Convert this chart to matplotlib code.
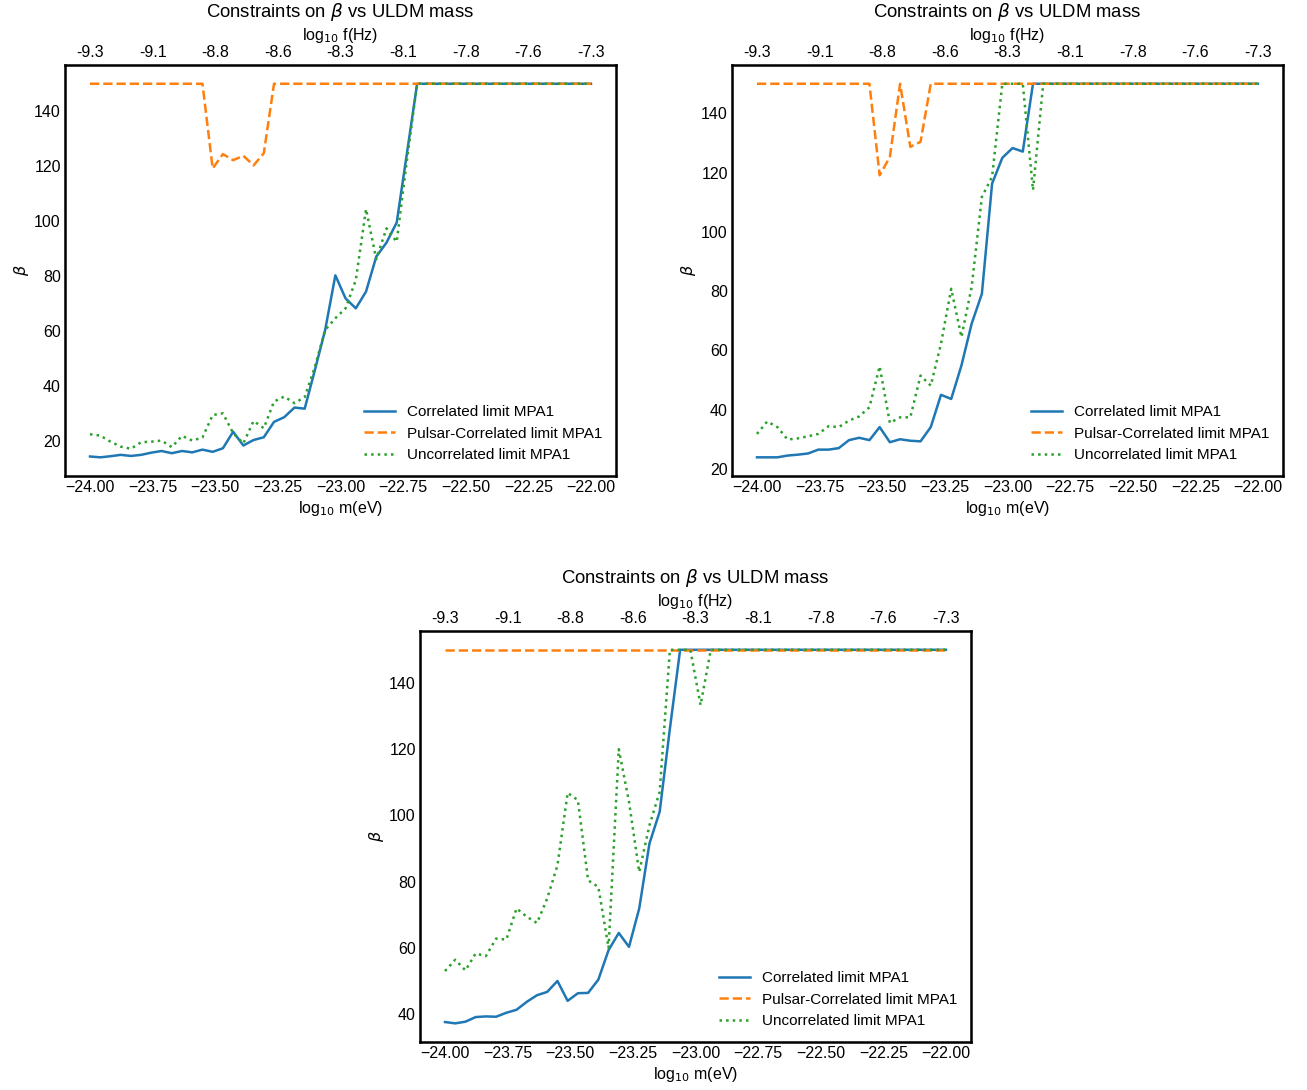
import numpy as np
import matplotlib
matplotlib.use("Agg")
import matplotlib.pyplot as plt

plt.rcParams['font.family'] = ['Liberation Sans', 'DejaVu Sans']
plt.rcParams['mathtext.fontset'] = 'dejavusans'

log_m = np.linspace(-24, -22, 50)
m_ticks = [-24.0, -23.75, -23.5, -23.25, -23.0, -22.75, -22.5, -22.25, -22.0]
f_ticklabels = ['-9.3', '-9.1', '-8.8', '-8.6', '-8.3', '-8.1', '-7.8', '-7.6', '-7.3']

# panel 1
corr_1 = [14.4, 14.1, 14.5, 15.0, 14.6, 15.0, 15.8, 16.4, 15.6, 16.4,
          15.9, 16.9, 16.1, 17.4, 23.4, 18.4, 20.4, 21.4, 27.0, 28.7,
          32.2, 31.8, 45.9, 60.4, 80.3, 71.9, 68.3, 74.4, 87.1, 92.2,
          99.5, 124.7] + [150] * 18
pulsar_1 = [150] * 12 + [119.2, 124.4, 122.2, 123.8, 120.3, 124.7] + [150] * 32
uncorr_1 = [22.5, 22.0, 19.8, 18.0, 17.2, 19.6, 19.8, 20.2, 17.8, 21.9,
            20.2, 21.3, 29.5, 30.1, 22.9, 19.2, 27.3, 24.7, 34.4, 36.2,
            33.8, 36.0, 47.1, 60.4, 64.7, 68.3, 78.6, 104.4, 86.2, 97.4,
            92.5, 122.2] + [150] * 18

# panel 2
corr_2 = [23.9, 23.9, 23.9, 24.5, 24.8, 25.2, 26.5, 26.5, 27.0, 29.7,
          30.5, 29.7, 34.1, 29.0, 30.0, 29.5, 29.3, 34.1, 45.0, 43.6,
          54.9, 69.0, 79.1, 116.3, 125.0, 128.3, 127.1] + [150] * 23
pulsar_2 = [150] * 12 + [119.1, 125.3, 150, 128.7, 130.4] + [150] * 33
uncorr_2 = [31.8, 36.0, 34.1, 29.9, 30.3, 31.0, 31.8, 34.4, 34.1, 36.3,
            37.7, 40.8, 54.6, 35.5, 37.4, 37.4, 51.5, 48.1, 62.2, 80.8,
            64.5, 81.4, 111.8, 118.6, 150, 150, 150, 114.1] + [150] * 22

# panel 3
corr_3 = [37.6, 37.2, 37.7, 39.1, 39.3, 39.2, 40.4, 41.3, 43.7, 45.7,
          46.7, 50.0, 44.0, 46.3, 46.4, 50.4, 59.3, 64.5, 60.3, 71.9,
          91.5, 101.1, 126.2] + [150] * 27
pulsar_3 = [150] * 50
uncorr_3 = [53.0, 56.4, 53.2, 58.3, 57.5, 62.8, 62.5, 71.9, 69.4, 67.5,
            74.9, 84.9, 106.8, 104.6, 80.4, 78.4, 60.0, 120.0, 104.1, 82.9,
            97.0, 107.1, 150, 150, 150, 133.3] + [150] * 24

panels = [
    ([0.0497, 0.5633, 0.4216, 0.377], corr_1, pulsar_1, uncorr_1),
    ([0.5600, 0.5633, 0.4216, 0.377], corr_2, pulsar_2, uncorr_2),
    ([0.3213, 0.0440, 0.4216, 0.377], corr_3, pulsar_3, uncorr_3),
]

fig = plt.figure(figsize=(13.07, 10.9), dpi=100)

for rect, corr, pulsar, uncorr in panels:
    ax = fig.add_axes(rect)
    ax.plot(log_m, corr, color='#1f77b4', lw=1.8, label='Correlated limit MPA1')
    ax.plot(log_m, pulsar, color='#ff7f0e', lw=1.8, ls='--', label='Pulsar-Correlated limit MPA1')
    ax.plot(log_m, uncorr, color='#2ca02c', lw=1.8, ls=':', label='Uncorrelated limit MPA1')
    ax.set_xticks(m_ticks)
    ax.set_xlabel(r'log$_{10}$ m(eV)', fontsize=11.5, labelpad=3)
    ax.set_ylabel(r'$\beta$', fontsize=11.5, labelpad=2)
    ax.tick_params(length=0, labelsize=11.5, pad=3)
    for s in ax.spines.values():
        s.set_linewidth(1.8)
    ax.legend(loc='lower right', frameon=False, fontsize=11)

    ax2 = ax.twiny()
    ax2.set_xlim(ax.get_xlim())
    ax2.set_xticks(m_ticks)
    ax2.set_xticklabels(f_ticklabels)
    ax2.tick_params(length=0, labelsize=11.5, pad=3.5)
    ax2.set_xlabel(r'log$_{10}$ f(Hz)', fontsize=11.5, labelpad=4)
    ax2.set_title(r'Constraints on $\beta$ vs ULDM mass', fontsize=13.3, pad=6)

fig.savefig('out.png', dpi=100)
